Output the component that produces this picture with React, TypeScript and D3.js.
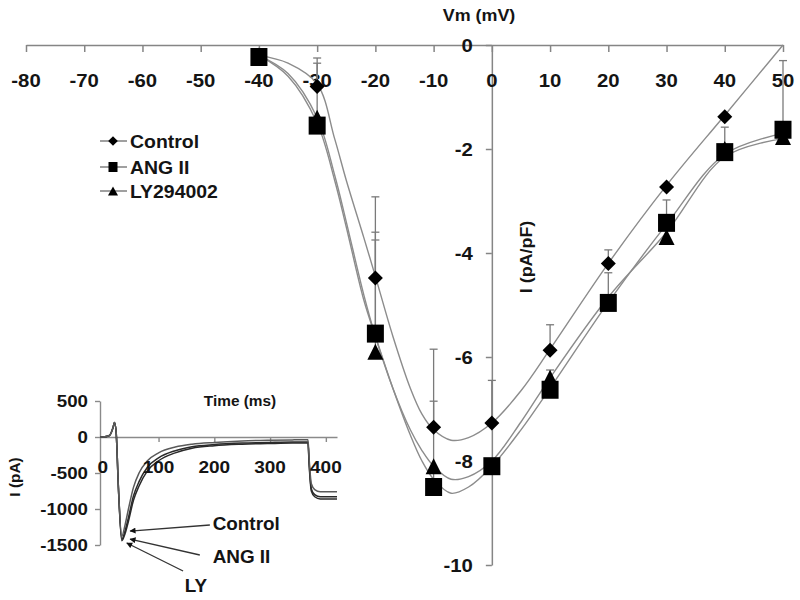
import React, { useEffect, useRef } from 'react';
import * as d3 from 'd3';

// ---- main I-V data (Vm in mV, I in pA/pF) ----
const voltages = [-40, -30, -20, -10, 0, 10, 20, 30, 40, 50];
const controlI = [-0.2, -0.8, -4.48, -7.35, -7.27, -5.87, -4.2, -2.73, -1.38, null];
const angI = [-0.23, -1.55, -5.55, -8.5, -8.1, -6.63, -4.96, -3.42, -2.06, -1.63];
const lyI = [-0.2, -1.4, -5.9, -8.1, -8.1, -6.4, -4.95, -3.69, -2.0, -1.77];

// upper end of each error bar (null = none visible)
const controlErrTop = [null, -0.25, -2.92, -5.85, -6.45, -5.38, -3.94, null, null, null];
const angErrTop = [null, -0.35, -3.6, -6.85, null, -6.25, -4.38, -2.98, -1.58, -0.3];
const lyErrTop = [null, null, -3.75, null, null, null, null, null, null, null];

// fitted curves
const controlFit: [number, number][] = [
  [-40, -0.2], [-35, -0.35], [-30, -0.75], [-27, -1.8], [-25, -2.6], [-22, -3.7], [-20, -4.45],
  [-17, -5.6], [-14, -6.6], [-12, -7.1], [-10, -7.4], [-7, -7.6], [-4, -7.55], [0, -7.27],
  [5, -6.65], [10, -5.85], [20, -4.2], [30, -2.7], [40, -1.35], [50, 0],
];
const angFit: [number, number][] = [
  [-40, -0.2], [-35, -0.6], [-30, -1.5], [-27, -2.6], [-25, -3.5], [-22, -4.9], [-20, -5.6],
  [-17, -6.6], [-14, -7.5], [-12, -8.0], [-10, -8.35], [-7, -8.62], [-4, -8.5], [0, -8.1],
  [5, -7.4], [10, -6.6], [20, -4.95], [30, -3.45], [40, -2.1], [50, -1.7],
];
const lyFit: [number, number][] = [
  [-40, -0.2], [-35, -0.55], [-30, -1.4], [-27, -2.5], [-25, -3.4], [-22, -4.8], [-20, -5.6],
  [-17, -6.6], [-14, -7.4], [-12, -7.8], [-10, -8.1], [-7, -8.35], [-4, -8.3], [0, -8.0],
  [5, -7.25], [10, -6.4], [20, -4.85], [30, -3.6], [40, -2.15], [50, -1.8],
];

const xTicks = [-80, -70, -60, -50, -40, -30, -20, -10, 0, 10, 20, 30, 40, 50];
const yTicks = [0, -2, -4, -6, -8, -10];
const legendLabels = ['Control', 'ANG II', 'LY294002'];

// ---- inset current traces (time in ms, I in pA) ----
const inT = [-5, 0, 12, 18, 21, 24, 28, 34, 40, 46, 55, 65, 80, 100, 130, 160, 200, 250, 300, 340, 368, 370, 374, 380, 390, 420];
const inControl = [0, 0, 20, 120, 200, 60, -700, -1380, -1220, -1000, -700, -500, -330, -220, -140, -100, -75, -55, -45, -40, -38, -300, -650, -730, -760, -760];
const inAng = [0, 0, 20, 120, 200, 60, -700, -1420, -1300, -1120, -820, -620, -420, -290, -190, -135, -105, -85, -75, -70, -70, -350, -720, -800, -830, -830];
const inLy = [0, 0, 20, 120, 200, 60, -700, -1440, -1340, -1170, -880, -680, -470, -330, -220, -155, -120, -100, -90, -85, -85, -380, -750, -830, -860, -860];
const inXTicks = [0, 100, 200, 300, 400];
const inYTicks = [500, 0, -500, -1000, -1500];

// inset annotations: label, text anchor (t, I), arrow tail (t, I), arrow tip (t, I)
const annLabels = ['Control', 'ANG II', 'LY'];
const annText: [number, number][] = [[197, -1292], [197, -1750], [147, -2153]];
const annTail: [number, number][] = [[192, -1222], [174, -1639], [144, -1861]];
const annTip: [number, number][] = [[49, -1306], [49, -1417], [43, -1472]];

const FONT = "'Liberation Sans', Arial, sans-serif";
const INK = '#141414';

const diamond = (cx: number, cy: number, r: number) =>
  `M${cx},${cy - r}L${cx + r},${cy}L${cx},${cy + r}L${cx - r},${cy}Z`;
const square = (cx: number, cy: number, w: number, h: number) =>
  `M${cx - w / 2},${cy - h / 2}h${w}v${h}h${-w}Z`;
const triangle = (cx: number, cy: number, w: number, h: number) =>
  `M${cx},${cy - h / 2}L${cx + w / 2},${cy + h / 2}L${cx - w / 2},${cy + h / 2}Z`;

const App = () => {
  const svgRef = useRef<SVGSVGElement>(null);

  useEffect(() => {
    const svg = d3.select(svgRef.current);
    svg.selectAll('*').remove();

    const txt = (g: any, x: number, y: number, s: string, size: number, anchor = 'middle', sx = 1.13, rot = 0) =>
      g.append('text')
        .attr('transform', `translate(${x},${y}) rotate(${rot}) scale(${sx},1)`)
        .attr('text-anchor', anchor)
        .style('font-family', FONT)
        .style('font-weight', 'bold')
        .style('font-size', `${size}px`)
        .style('fill', INK)
        .text(s);

    const x = d3.scaleLinear().domain([-80, 50]).range([26, 783]);
    const y = d3.scaleLinear().domain([0, -10]).range([45, 565]);

    // axes
    const xAxis = svg.append('g')
      .attr('transform', `translate(0,${y(0)})`)
      .call(d3.axisBottom(x).tickValues(xTicks).tickSize(7).tickSizeOuter(0).tickFormat(() => ''));
    const yAxis = svg.append('g')
      .attr('transform', `translate(${x(0)},0)`)
      .call(d3.axisLeft(y).tickValues(yTicks).tickSize(6).tickSizeOuter(0).tickFormat(() => ''));
    [xAxis, yAxis].forEach(a => {
      a.selectAll('path, line').attr('stroke', '#858585').attr('stroke-width', 1.5);
    });

    xTicks.forEach(t => txt(svg, x(t), 87, String(t), 18));
    yTicks.forEach(t => txt(svg, x(0) - 19, y(t) + 6.5, String(t), 18, 'end'));

    txt(svg, 479, 21, 'Vm (mV)', 16, 'middle', 1.12);
    txt(svg, 532, 257, 'I (pA/pF)', 16, 'middle', 1.12, -90);

    // fitted curves
    const fitLine = d3.line<[number, number]>()
      .x(d => x(d[0]))
      .y(d => y(d[1]))
      .curve(d3.curveCatmullRom);
    [controlFit, angFit, lyFit].forEach(f => {
      svg.append('path')
        .datum(f)
        .attr('d', fitLine)
        .attr('fill', 'none')
        .attr('stroke', '#8c8c8c')
        .attr('stroke-width', 1.4);
    });

    // error bars
    const errs: [(number | null)[], (number | null)[]][] = [
      [controlI, controlErrTop], [angI, angErrTop], [lyI, lyErrTop],
    ];
    errs.forEach(([vals, tops]) => {
      voltages.forEach((v, i) => {
        const val = vals[i];
        const top = tops[i];
        if (val == null || top == null) return;
        svg.append('line')
          .attr('x1', x(v)).attr('x2', x(v))
          .attr('y1', y(val)).attr('y2', y(top))
          .attr('stroke', '#7a7a7a').attr('stroke-width', 1.3);
        svg.append('line')
          .attr('x1', x(v) - 4).attr('x2', x(v) + 4)
          .attr('y1', y(top)).attr('y2', y(top))
          .attr('stroke', '#7a7a7a').attr('stroke-width', 1.3);
      });
    });

    // markers: triangles, squares, then diamonds on top
    voltages.forEach((v, i) => {
      svg.append('path').attr('d', triangle(x(v), y(lyI[i]), 16, 16)).attr('fill', '#000');
    });
    voltages.forEach((v, i) => {
      svg.append('path').attr('d', square(x(v), y(angI[i]), 17, 18)).attr('fill', '#000');
    });
    voltages.forEach((v, i) => {
      const val = controlI[i];
      if (val == null) return;
      svg.append('path').attr('d', diamond(x(v), y(val), 7.5)).attr('fill', '#000');
    });

    // legend
    const legY = [141, 167, 191];
    legendLabels.forEach((lab, i) => {
      const ly = legY[i];
      svg.append('line').attr('x1', 100).attr('x2', 127).attr('y1', ly).attr('y2', ly)
        .attr('stroke', '#777').attr('stroke-width', 1.4);
      const mk = i === 0 ? diamond(113, ly, 4.8) : i === 1 ? square(113, ly, 9, 10) : triangle(113, ly, 10, 9);
      svg.append('path').attr('d', mk).attr('fill', '#000');
      txt(svg, 130, ly + 6.5, lab, 18, 'start', 1.08);
    });

    // ---- inset ----
    const ix = d3.scaleLinear().domain([-5, 420]).range([100, 337]);
    const iy = d3.scaleLinear().domain([500, -1500]).range([401, 545]);

    const ixAxis = svg.append('g')
      .attr('transform', `translate(0,${iy(0)})`)
      .call(d3.axisBottom(ix).tickValues(inXTicks.filter(t => t > 0)).tickSize(5).tickSizeOuter(0).tickFormat(() => ''));
    const iyAxis = svg.append('g')
      .attr('transform', `translate(${ix(-5)},0)`)
      .call(d3.axisLeft(iy).tickValues(inYTicks).tickSize(5).tickSizeOuter(0).tickFormat(() => ''));
    [ixAxis, iyAxis].forEach(a => {
      a.selectAll('path, line').attr('stroke', '#8a8a8a').attr('stroke-width', 1.4);
    });

    const traceLine = d3.line<number>()
      .x((_, i) => ix(inT[i]))
      .y(d => iy(d))
      .curve(d3.curveMonotoneX);
    [inLy, inAng, inControl].forEach((tr, k) => {
      svg.append('path')
        .datum(tr)
        .attr('d', traceLine)
        .attr('fill', 'none')
        .attr('stroke', k === 2 ? '#5a5a5a' : '#2a2a2a')
        .attr('stroke-width', 1.5);
    });

    inXTicks.forEach(t => txt(svg, ix(t), 473, String(t), 17, 'middle', 1.12));
    inYTicks.forEach(t => txt(svg, 88, iy(t) + 6, String(t), 17, 'end', 1.1));
    txt(svg, 240, 406, 'Time (ms)', 14, 'middle', 1.1);
    txt(svg, 20, 477, 'I (pA)', 14, 'middle', 1.1, -90);

    // annotation arrows
    const defs = svg.append('defs');
    defs.append('marker')
      .attr('id', 'arrowHead')
      .attr('viewBox', '0 0 10 10')
      .attr('refX', 9).attr('refY', 5)
      .attr('markerWidth', 7).attr('markerHeight', 6)
      .attr('markerUnits', 'userSpaceOnUse')
      .attr('orient', 'auto')
      .append('path').attr('d', 'M0,0L10,5L0,10Z').attr('fill', '#111');

    annLabels.forEach((lab, i) => {
      svg.append('line')
        .attr('x1', ix(annTail[i][0])).attr('y1', iy(annTail[i][1]))
        .attr('x2', ix(annTip[i][0])).attr('y2', iy(annTip[i][1]))
        .attr('stroke', '#333').attr('stroke-width', 1.3)
        .attr('marker-end', 'url(#arrowHead)');
      txt(svg, ix(annText[i][0]), iy(annText[i][1]), lab, 18, 'start', 1.05);
    });
  }, []);

  return (
    <div style={{ position: 'absolute', left: 0, top: 0, width: 800, height: 600, background: '#fff' }}>
      <svg ref={svgRef} width={800} height={600} style={{ display: 'block' }}></svg>
    </div>
  );
};

export default App;
